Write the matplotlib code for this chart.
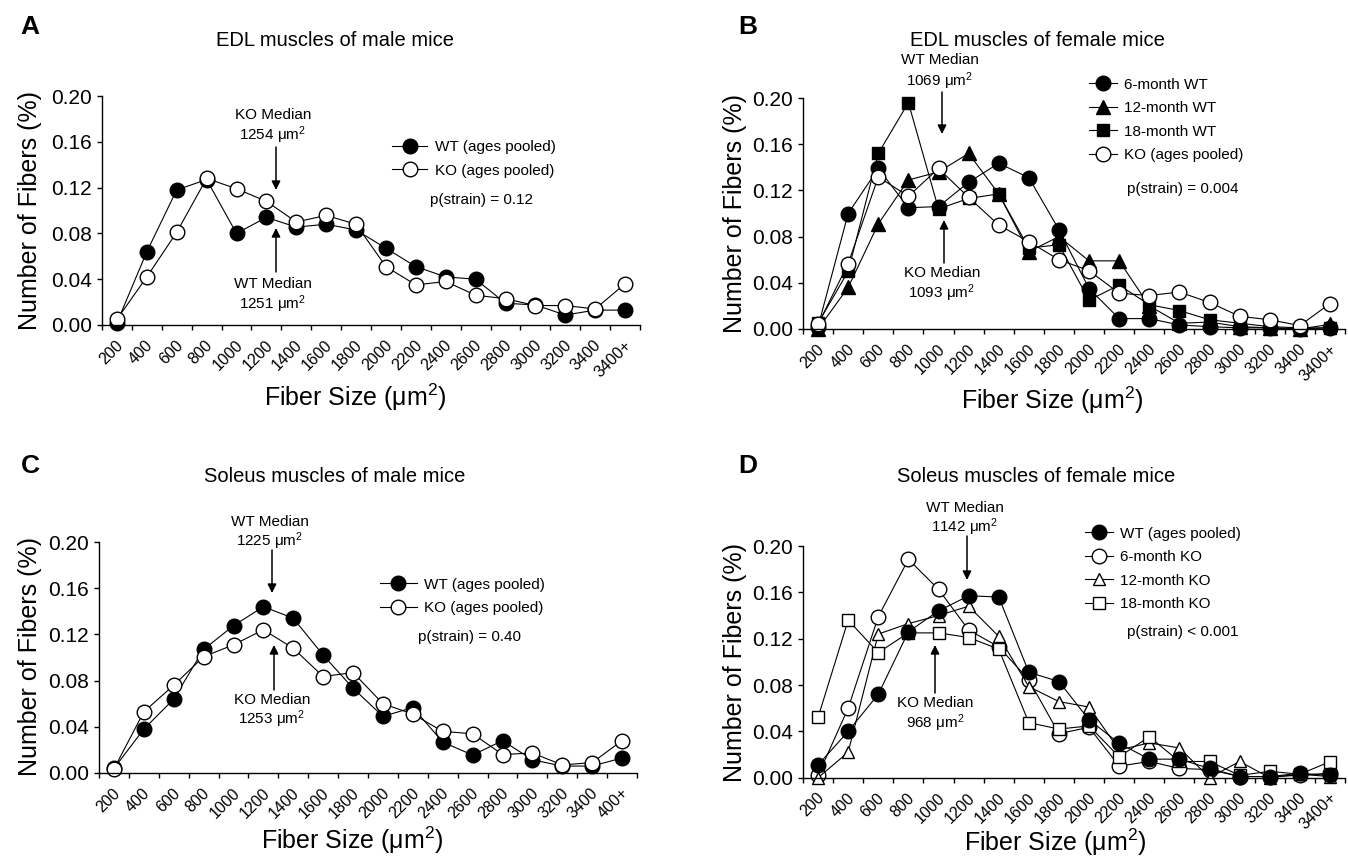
import numpy as np
import matplotlib
matplotlib.use("Agg")
import matplotlib.pyplot as plt
import matplotlib.transforms as mtransforms
from matplotlib.patches import FancyArrowPatch

plt.rcParams['font.family'] = ['Liberation Sans', 'DejaVu Sans']
plt.rcParams['mathtext.fontset'] = 'custom'
plt.rcParams['mathtext.rm'] = 'Liberation Sans'
plt.rcParams['mathtext.it'] = 'Liberation Sans:italic'
plt.rcParams['mathtext.bf'] = 'Liberation Sans:bold'

# ---------------- data ----------------
size_labels = ["200", "400", "600", "800", "1000", "1200", "1400", "1600", "1800",
               "2000", "2200", "2400", "2600", "2800", "3000", "3200", "3400", "3400+"]
size_labels_C = size_labels[:-1] + ["400+"]

A_wt = [0.002, 0.064, 0.118, 0.127, 0.080, 0.094, 0.0855, 0.088, 0.083, 0.067, 0.051,
        0.042, 0.040, 0.019, 0.0175, 0.0087, 0.013, 0.013]
A_ko = [0.005, 0.042, 0.081, 0.128, 0.119, 0.108, 0.090, 0.0957, 0.088, 0.051, 0.035,
        0.038, 0.026, 0.023, 0.017, 0.017, 0.014, 0.036]

B_wt6 = [0.002, 0.100, 0.139, 0.105, 0.106, 0.127, 0.1435, 0.131, 0.086, 0.035, 0.009,
         0.009, 0.0035, 0.002, 0.001, 0.001, 0.0, 0.001]
B_wt12 = [0.0, 0.036, 0.091, 0.129, 0.136, 0.152, 0.117, 0.067, 0.080, 0.059, 0.059,
          0.020, 0.005, 0.006, 0.002, 0.001, 0.0, 0.004]
B_wt18 = [0.005, 0.050, 0.152, 0.196, 0.104, 0.113, 0.117, 0.070, 0.073, 0.025, 0.038,
          0.021, 0.016, 0.008, 0.005, 0.002, 0.001, 0.001]
B_ko = [0.004, 0.0566, 0.1316, 0.115, 0.139, 0.114, 0.090, 0.0756, 0.060, 0.0505, 0.031,
        0.029, 0.032, 0.023, 0.011, 0.008, 0.003, 0.022]

C_wt = [0.004, 0.038, 0.064, 0.107, 0.1275, 0.144, 0.134, 0.102, 0.0734, 0.049, 0.0567,
        0.0268, 0.0155, 0.028, 0.0115, 0.006, 0.006, 0.013]
C_ko = [0.0035, 0.053, 0.076, 0.1007, 0.111, 0.124, 0.108, 0.0835, 0.087, 0.060, 0.051,
        0.036, 0.034, 0.016, 0.0173, 0.007, 0.009, 0.028]

D_wt = [0.011, 0.040, 0.072, 0.126, 0.144, 0.157, 0.156, 0.091, 0.083, 0.050, 0.0297,
        0.016, 0.016, 0.008, 0.001, 0.001, 0.0038, 0.002]
D_ko6 = [0.002, 0.060, 0.139, 0.1885, 0.1626, 0.1275, 0.113, 0.0844, 0.038, 0.0435, 0.010,
         0.014, 0.008, 0.007, 0.001, 0.001, 0.002, 0.004]
D_ko12 = [0.0, 0.022, 0.124, 0.133, 0.140, 0.148, 0.122, 0.0786, 0.0657, 0.061, 0.024,
          0.030, 0.0257, 0.0, 0.014, 0.0, 0.003, 0.001]
D_ko18 = [0.052, 0.136, 0.108, 0.125, 0.125, 0.121, 0.111, 0.0475, 0.042, 0.0447, 0.018,
          0.0354, 0.014, 0.014, 0.002, 0.0055, 0.003, 0.0138]

y_ticks = [0.00, 0.04, 0.08, 0.12, 0.16, 0.20]

# ---------------- figure ----------------
W, H = 1348, 857
fig = plt.figure(figsize=(W / 100, H / 100), dpi=100)


def fx(px):
    return px / W


def fy(py):
    return 1 - py / H


def make_axes(left, right, top, bottom, labels):
    ax = fig.add_axes([fx(left), fy(bottom), (right - left) / W, (bottom - top) / H])
    n = len(labels)
    ax.set_xlim(-0.5, n - 0.5)
    ax.set_ylim(0, 0.2)
    for s in ('top', 'right'):
        ax.spines[s].set_visible(False)
    for s in ('left', 'bottom'):
        ax.spines[s].set_linewidth(1.0)
    ax.set_yticks(y_ticks)
    ax.set_yticklabels([f"{v:.2f}" for v in y_ticks])
    ax.tick_params(axis='y', direction='out', length=3.8, width=1.0, pad=3.5, labelsize=15)
    ax.set_xticks(np.arange(n))
    ax.set_xticklabels(labels, rotation=45, ha='right', va='top')
    ax.set_xticks(np.arange(-0.5, n, 1.0), minor=True)
    ax.tick_params(axis='x', which='major', length=0, pad=9.0, labelsize=11.5)
    ax.tick_params(axis='x', which='minor', direction='out', length=3.8, width=1.0)
    off = mtransforms.ScaledTranslation(9 / 100, 0, fig.dpi_scale_trans)
    for lab in ax.get_xticklabels():
        lab.set_transform(lab.get_transform() + off)
    return ax


def series(ax, y, marker, filled, ms, label):
    x = np.arange(len(y))
    ln, = ax.plot(x, y, color='black', lw=0.8, marker=marker, ms=ms,
                  mfc='black' if filled else 'white', mec='black', mew=1.0,
                  clip_on=False, label=label)
    return ln


def legend(ax, handles, x_left, y_center, hl, fs=11):
    ax.legend(handles=handles, loc='center left',
              bbox_to_anchor=(fx(x_left), fy(y_center)), bbox_transform=fig.transFigure,
              frameon=False, fontsize=fs, handlelength=hl, handletextpad=0.5,
              labelspacing=0.62, borderpad=0, borderaxespad=0, numpoints=1)


def median_note(lines_xy, arrow_x, y_from, y_to, fs=11):
    for (txt, tx, ty) in lines_xy:
        fig.text(fx(tx), fy(ty), txt, ha='center', va='center', fontsize=fs)
    fig.add_artist(FancyArrowPatch(
        (fx(arrow_x), fy(y_from)), (fx(arrow_x), fy(y_to)),
        transform=fig.transFigure, arrowstyle='-|>', mutation_scale=13,
        color='black', lw=1.1, shrinkA=0, shrinkB=0))


um2 = "μm$^{2}$"

# ---- Panel A ----
axA = make_axes(102, 640, 96, 325, size_labels)
hA_wt = series(axA, A_wt, 'o', True, 10.5, 'WT (ages pooled)')
hA_ko = series(axA, A_ko, 'o', False, 10.5, 'KO (ages pooled)')
legend(axA, [hA_wt, hA_ko], 392, 159, 2.3)
fig.text(fx(481), fy(200), "p(strain) = 0.12", ha='center', va='center', fontsize=11)
median_note([("KO Median", 273, 115), ("1254 " + um2, 273, 135)], 276, 147, 190)
median_note([("WT Median", 273, 284), ("1251 " + um2, 273, 304)], 276, 272, 228)

# ---- Panel B ----
axB = make_axes(803, 1345, 98, 329, size_labels)
hB6 = series(axB, B_wt6, 'o', True, 10.5, '6-month WT')
hB12 = series(axB, B_wt12, '^', True, 9.5, '12-month WT')
hB18 = series(axB, B_wt18, 's', True, 9.0, '18-month WT')
hBko = series(axB, B_ko, 'o', False, 10.5, 'KO (ages pooled)')
legend(axB, [hB6, hB12, hB18, hBko], 1089, 120, 1.8)
fig.text(fx(1183), fy(189), "p(strain) = 0.004", ha='center', va='center', fontsize=11)
median_note([("WT Median", 940, 60), ("1069 " + um2, 940, 81)], 942, 92, 134)
median_note([("KO Median", 942, 273), ("1093 " + um2, 942, 293)], 944, 263, 220)

# ---- Panel C ----
axC = make_axes(99, 637, 542, 773, size_labels_C)
hC_wt = series(axC, C_wt, 'o', True, 10.5, 'WT (ages pooled)')
hC_ko = series(axC, C_ko, 'o', False, 10.5, 'KO (ages pooled)')
legend(axC, [hC_wt, hC_ko], 380, 596.5, 2.4)
fig.text(fx(469), fy(637), "p(strain) = 0.40", ha='center', va='center', fontsize=11)
median_note([("WT Median", 270, 522), ("1225 " + um2, 270, 541)], 272, 550, 593)
median_note([("KO Median", 272, 700), ("1253 " + um2, 272, 719)], 274, 690, 645)

# ---- Panel D ----
axD = make_axes(803, 1345, 546, 777.7, size_labels)
hD6 = series(axD, D_ko6, 'o', False, 10.5, '6-month KO')
hD12 = series(axD, D_ko12, '^', False, 8.5, '12-month KO')
hD18 = series(axD, D_ko18, 's', False, 8.0, '18-month KO')
hDwt = series(axD, D_wt, 'o', True, 10.5, 'WT (ages pooled)')
legend(axD, [hDwt, hD6, hD12, hD18], 1085, 569, 1.8)
fig.text(fx(1183), fy(632), "p(strain) < 0.001", ha='center', va='center', fontsize=11)
median_note([("WT Median", 965, 508), ("1142 " + um2, 965, 527)], 967, 536, 580)
median_note([("KO Median", 935, 703), ("968 " + um2, 935, 723)], 935, 693, 645)

# ---- titles, panel letters, axis labels ----
for (letter, lx, ly) in [("A", 30, 27), ("B", 748, 27), ("C", 30, 466), ("D", 748, 466)]:
    fig.text(fx(lx), fy(ly), letter, ha='center', va='center', fontsize=19, fontweight='bold')

for (title, tx, ty) in [("EDL muscles of male mice", 335, 40),
                        ("EDL muscles of female mice", 1037, 40),
                        ("Soleus muscles of male mice", 335, 476),
                        ("Soleus muscles of female mice", 1036, 476)]:
    fig.text(fx(tx), fy(ty), title, ha='center', va='center', fontsize=14.5)

for (yx, yy) in [(30, 210), (735, 213), (30, 657), (735, 662)]:
    fig.text(fx(yx), fy(yy), "Number of Fibers (%)", ha='center', va='center',
             rotation=90, fontsize=18)

for (xx, xy) in [(355, 397), (1052, 400), (352, 840), (1055, 842)]:
    fig.text(fx(xx), fy(xy), "Fiber Size (" + um2 + ")", ha='center', va='center', fontsize=18)

fig.savefig("out.png", dpi=100)
